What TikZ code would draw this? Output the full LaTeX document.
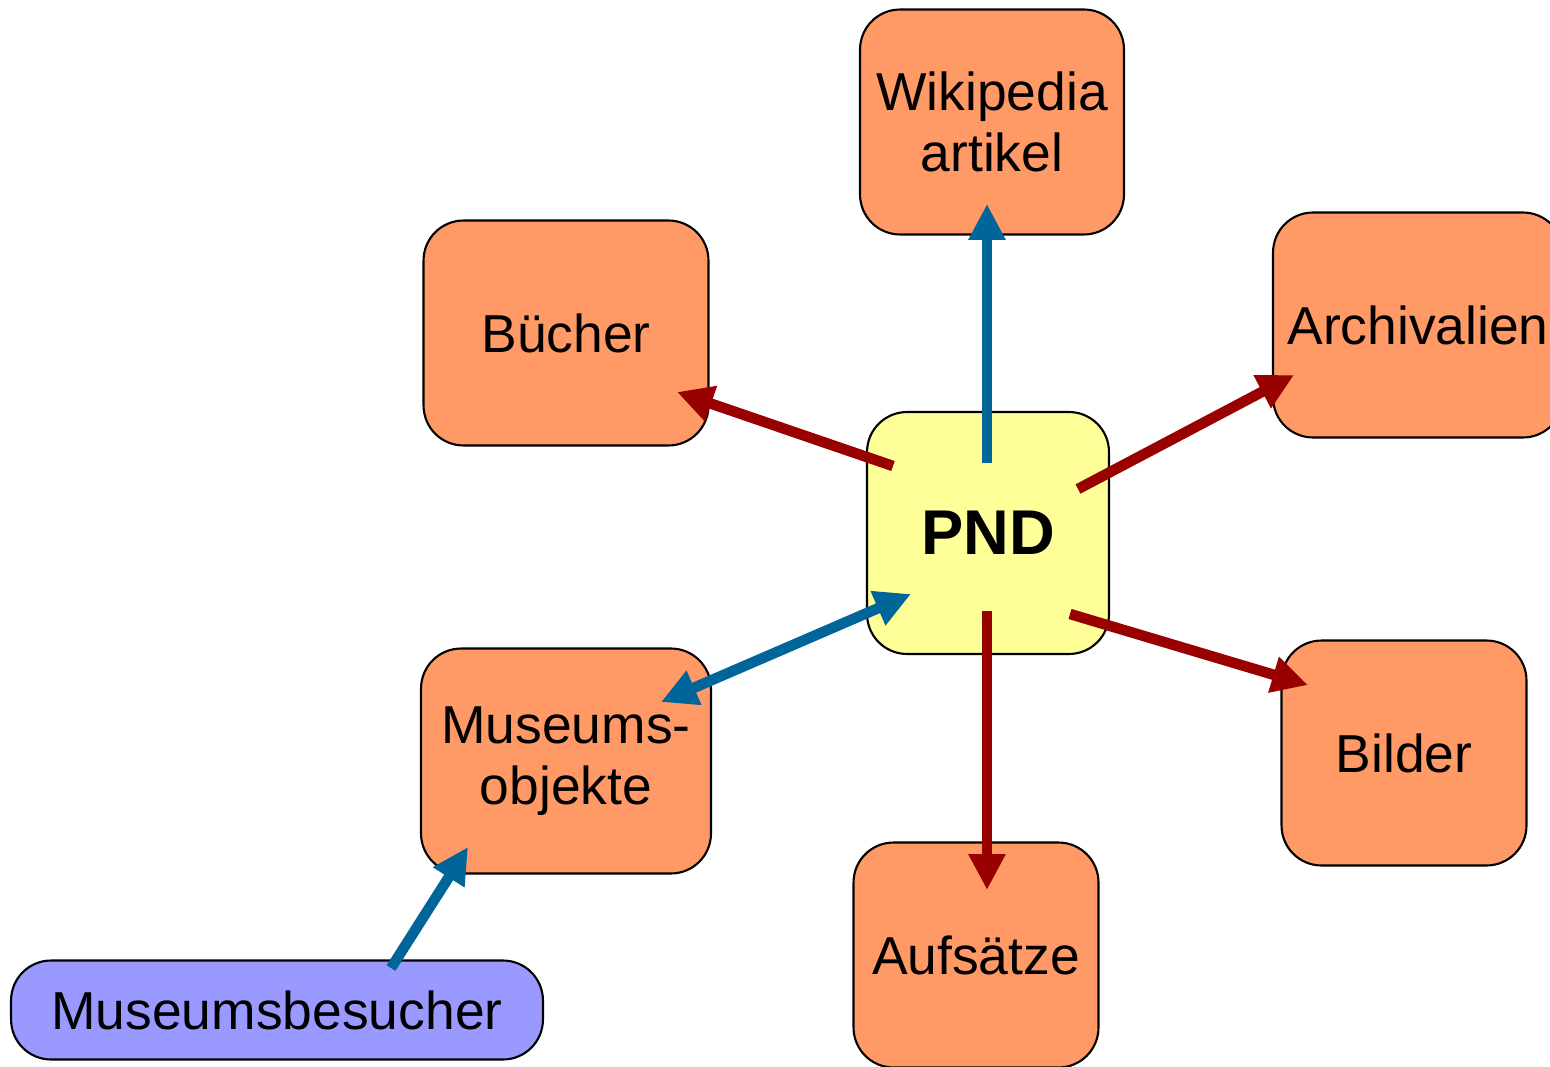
\documentclass[tikz,border=0pt]{standalone}
\usepackage{fontspec}
\setmainfont{Liberation Sans}
\usetikzlibrary{arrows.meta}
\definecolor{orangebox}{HTML}{FF9966}
\definecolor{yellowbox}{HTML}{FFFF99}
\definecolor{purplebox}{HTML}{9999FF}
\definecolor{redarrow}{HTML}{990000}
\definecolor{bluearrow}{HTML}{006699}
\begin{document}
\begin{tikzpicture}[x=0.02cm,y=-0.02cm,
  box/.style={draw=black, line width=1.2pt, rounded corners=0.8cm, fill=orangebox,
    minimum width=#1, minimum height=4.5cm, align=center, inner sep=0pt,
    font=\fontsize{30.4}{34.5}\selectfont},
  box/.default=5cm,
  conn/.style={line width=6pt, -{Triangle[length=0.72cm,width=0.7cm]}},
  biconn/.style={line width=6pt, {Triangle[length=0.72cm,width=0.7cm]}-{Triangle[length=0.72cm,width=0.7cm]}},
]
\useasboundingbox (0,0) rectangle (1550,1067);
\fill[white] (0,0) rectangle (1550,1067);

\node[box=5.28cm] (wiki) at (992,122) {Wikipedia\\artikel};
\node[box=5.7cm] (buch) at (566,333) {Bücher};
\node[box=5.8cm] (arch) at (1418,325) {Archivalien};
\node[box=5.8cm] (mus) at (566,761) {Museums-\\objekte};
\node[box=4.9cm] (bild) at (1404,753) {Bilder};
\node[box=4.9cm] (aufs) at (976,955) {Aufsätze};
\node[draw=black, line width=1.2pt, rounded corners=0.8cm, fill=yellowbox,
  minimum width=4.84cm, minimum height=4.84cm, inner sep=0pt,
  font=\fontsize{36}{40}\selectfont\bfseries] (pnd) at (988,533) {PND};
\node[draw=black, line width=1.2pt, rounded corners=0.8cm, fill=purplebox,
  minimum width=10.64cm, minimum height=1.98cm, inner sep=0pt,
  font=\fontsize{30.4}{34.5}\selectfont] (besu) at (277,1010) {Museumsbesucher};

\coordinate (pB) at (893,466);   \coordinate (tB) at (677,392);
\coordinate (pW) at (987,463);   \coordinate (tW) at (987,204);
\coordinate (pA) at (1078,489);  \coordinate (tA) at (1294,375);
\coordinate (pI) at (1070,614);  \coordinate (tI) at (1308,685);
\coordinate (pU) at (987,611);   \coordinate (tU) at (987,890);
\coordinate (pM) at (911,594);   \coordinate (tM) at (661,702);
\coordinate (sV) at (391,968);   \coordinate (tV) at (468,847);

\draw[conn, redarrow] (pB) -- (tB);
\draw[conn, bluearrow] (pW) -- (tW);
\draw[conn, redarrow] (pA) -- (tA);
\draw[conn, redarrow] (pI) -- (tI);
\draw[conn, redarrow] (pU) -- (tU);
\draw[biconn, bluearrow] (tM) -- (pM);
\draw[conn, bluearrow] (sV) -- (tV);
\end{tikzpicture}
\end{document}
